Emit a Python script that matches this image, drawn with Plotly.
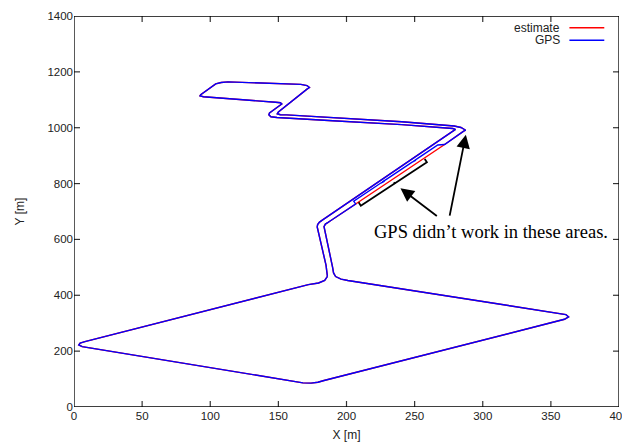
import plotly.graph_objects as go

# ---- data (metres) ----
path1_x = [186.0, 185.6, 185.0, 178.5, 178.8, 180.2, 182.5, 280.0, 278.0, 240.6, 190.0, 149.0, 144.5, 143.0,
           143.5, 152.5, 151.5, 148.0, 95.0, 92.5, 93.0, 104.0, 108.0, 113.0, 166.5, 171.0, 172.8, 171.0,
           150.0, 149.2, 151.5, 156.0, 240.6, 279.0, 284.0, 287.5, 286.0, 272.0]
path1_y = [468, 483, 507, 645, 653, 662, 670, 994, 997, 1011.0, 1025, 1036.5, 1039, 1046,
           1053, 1085, 1089.5, 1091, 1111, 1114, 1118, 1157, 1162, 1164, 1155, 1151, 1144, 1138,
           1056, 1050, 1046.5, 1046, 1021.5, 1006, 1001, 991, 987.5, 940]

gps_gap_x = [267.0, 252.8, 249.1, 251.0, 247.9, 229.8, 226.1, 228.0, 225.2, 205.3]
gps_gap_y = [938, 892, 880, 884, 876, 817, 805, 809, 802, 737]
est_gap_x = [239.4]
est_gap_y = [833.5]

path2_x = [206.7, 188.0, 186.5, 184.5, 183.5, 189.8, 190.5, 192.0, 196.0, 201.0, 361.0, 363.0, 360.0,
           183.5, 179.0, 174.0, 168.0, 6.0, 3.5, 4.5, 8.0, 172.0, 179.5, 184.0, 186.0]
path2_y = [727, 666, 661, 655, 646, 500, 480, 467, 458, 453, 331, 322.5, 314,
           95, 88.5, 85.5, 86.5, 216, 222, 229, 234, 438, 444, 453, 468]

gps_x = path1_x + gps_gap_x + path2_x
gps_y = path1_y + gps_gap_y + path2_y
est_x = path1_x + est_gap_x + path2_x
est_y = path1_y + est_gap_y + path2_y

bracket_x = [208.9, 210.5, 259.0, 257.4, None, 235.6, 234.8]
bracket_y = [733, 721, 876, 888, None, 799.5, 805]

arrows = [(267.4, 680, 239.6, 783), (275.5, 680, 287.6, 975)]

x_range = [0, 400]
y_range = [0, 1400]
x_ticks = [0, 50, 100, 150, 200, 250, 300, 350, 400]
y_ticks = [0, 200, 400, 600, 800, 1000, 1200, 1400]

series_names = ["estimate", "GPS"]
series_colors = ["#ff0000", "#0000ff"]

fig = go.Figure()
fig.add_trace(go.Scatter(x=est_x, y=est_y, mode="lines", name=series_names[0],
                         line=dict(color=series_colors[0], width=1.4, simplify=False), showlegend=False))
fig.add_trace(go.Scatter(x=gps_x, y=gps_y, mode="lines", name=series_names[1],
                         line=dict(color=series_colors[1], width=1.4, simplify=False), showlegend=False))
fig.add_trace(go.Scatter(x=bracket_x, y=bracket_y, mode="lines", line=dict(color="black", width=1.8),
                         showlegend=False, hoverinfo="skip"))

# gnuplot-style border and inward ticks on all four sides, built from the axis ranges and tick lists
tlx = (x_range[1] - x_range[0]) * 6 / 545.0   # ~6 px in x units
tly = (y_range[1] - y_range[0]) * 6 / 391.0   # ~6 px in y units
frame_x = [x_range[0], x_range[1], x_range[1], x_range[0], x_range[0]]
frame_y = [y_range[0], y_range[0], y_range[1], y_range[1], y_range[0]]
tick_x, tick_y = [], []
for t in x_ticks[1:-1]:
    tick_x += [t, t, None, t, t, None]
    tick_y += [y_range[0], y_range[0] + tly, None, y_range[1], y_range[1] - tly, None]
for t in y_ticks[1:-1]:
    tick_x += [x_range[0], x_range[0] + tlx, None, x_range[1], x_range[1] - tlx, None]
    tick_y += [t, t, None, t, t, None]
fig.add_trace(go.Scatter(x=tick_x, y=tick_y, mode="lines", line=dict(color="#333", width=1.2),
                         showlegend=False, hoverinfo="skip", cliponaxis=False))
fig.add_trace(go.Scatter(x=frame_x, y=frame_y, mode="lines", line=dict(color="black", width=1.3),
                         showlegend=False, hoverinfo="skip", cliponaxis=False))

for tx, ty, hx, hy in arrows:
    fig.add_annotation(x=hx, y=hy, ax=tx, ay=ty, xref="x", yref="y", axref="x", ayref="y",
                       text="", showarrow=True, arrowhead=2, arrowsize=1.5, arrowwidth=1.8,
                       arrowcolor="black")

fig.add_annotation(x=218.4, y=628, xref="x", yref="y", text="GPS didn\u2019t work in these areas.",
                   showarrow=False, xanchor="left", yanchor="middle",
                   font=dict(family="Liberation Serif, Times New Roman, serif", size=18.5, color="black"))

# gnuplot-style key (text right-aligned, sample line on the right)
key_rows = [0.970, 0.938]
for name, color, yy in zip(series_names, series_colors, key_rows):
    fig.add_annotation(x=0.895, y=yy, xref="paper", yref="paper", text=name, showarrow=False,
                       xanchor="right", yanchor="middle",
                       font=dict(family="Liberation Sans, Arial, sans-serif", size=12, color="#222"))
    fig.add_shape(type="line", xref="paper", yref="paper", x0=0.909, x1=0.973, y0=yy, y1=yy,
                  line=dict(color=color, width=1.4), opacity=1)

tick_font = dict(family="Liberation Sans, Arial, sans-serif", size=11.5, color="#222")
title_font = dict(family="Liberation Sans, Arial, sans-serif", size=12, color="#222")

# the page body adds an 8 px offset, so the figure is sized to end at the window edge
fig.update_layout(
    template="none",
    width=622, height=437,
    margin=dict(l=66, r=11, t=8, b=38),
    paper_bgcolor="white", plot_bgcolor="white",
    xaxis=dict(range=x_range, tickvals=x_ticks, showline=False, ticks="",
               showgrid=False, zeroline=False, automargin=False, tickfont=tick_font,
               title=dict(text="X [m]", standoff=10, font=title_font)),
    yaxis=dict(range=y_range, tickvals=y_ticks, showline=False, ticks="",
               showgrid=False, zeroline=False, automargin=False, tickfont=tick_font,
               title=dict(text="Y [m]", standoff=20, font=title_font)),
    showlegend=False,
)

fig.write_html("out.html")
